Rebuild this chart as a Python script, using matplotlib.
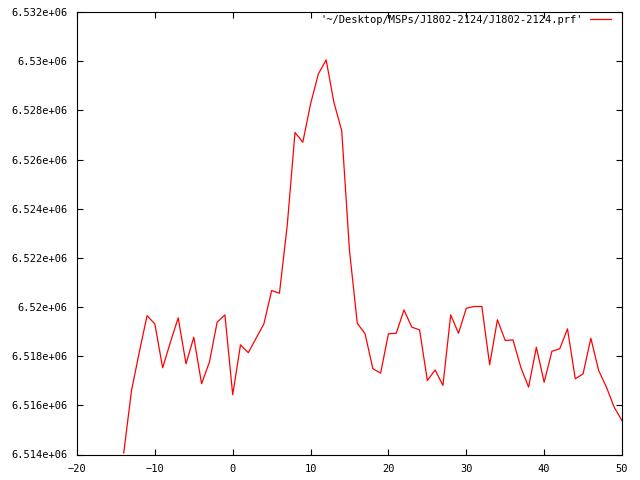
"""
Pulse profile of J1802-2124 (gnuplot-style look).
"""
import matplotlib
matplotlib.use("Agg")
import matplotlib.pyplot as plt
import matplotlib.ticker as mticker

# phase bin and profile intensity
bins = list(range(-14, 51))
intensity = [
    6.51406e6, 6.51660e6, 6.51816e6, 6.51965e6, 6.51931e6, 6.51753e6,
    6.51857e6, 6.51956e6, 6.51769e6, 6.51877e6, 6.51688e6, 6.51775e6,
    6.51938e6, 6.51968e6, 6.51643e6, 6.51846e6, 6.51814e6, 6.51873e6,
    6.51931e6, 6.52067e6, 6.52056e6, 6.52331e6, 6.52710e6, 6.52670e6,
    6.52826e6, 6.52948e6, 6.53005e6, 6.52832e6, 6.52717e6, 6.52229e6,
    6.51934e6, 6.51891e6, 6.51749e6, 6.51731e6, 6.51891e6, 6.51893e6,
    6.51988e6, 6.51918e6, 6.51907e6, 6.51701e6, 6.51744e6, 6.51681e6,
    6.51968e6, 6.51893e6, 6.51995e6, 6.52002e6, 6.52002e6, 6.51765e6,
    6.51948e6, 6.51864e6, 6.51866e6, 6.51755e6, 6.51674e6, 6.51836e6,
    6.51694e6, 6.51820e6, 6.51830e6, 6.51911e6, 6.51708e6, 6.51728e6,
    6.51873e6, 6.51742e6, 6.51674e6, 6.51592e6, 6.51538e6,
]
x_ticks = [-20, -10, 0, 10, 20, 30, 40, 50]
y_ticks = [6.514e6 + 2000 * i for i in range(10)]
label = "'~/Desktop/MSPs/J1802-2124/J1802-2124.prf'"

plt.rcParams.update({
    "font.family": "DejaVu Sans Mono",
    "font.size": 7.5,
})

fig = plt.figure(figsize=(6.4, 4.8), dpi=100)
ax = fig.add_axes([77 / 640, 25.5 / 480, 545 / 640, 442.5 / 480])

ax.plot(bins, intensity, color="red", linewidth=0.9, label=label)

ax.set_xlim(-20, 50)
ax.set_ylim(6.514e6, 6.532e6)
ax.set_xticks(x_ticks)
ax.set_yticks(y_ticks)
ax.yaxis.set_major_formatter(mticker.FuncFormatter(lambda v, p: "%g" % v))
ax.tick_params(direction="in", length=4, width=0.8, top=True, right=True,
               pad=7, colors="black")
for s in ax.spines.values():
    s.set_linewidth(0.8)

ax.legend(loc="upper right", bbox_to_anchor=(0.9799, 0.9932),
          frameon=False, markerfirst=False, borderpad=0, borderaxespad=0,
          handlelength=2.0, handletextpad=0.75, fontsize=7.5)

fig.savefig("out.png", dpi=100)
